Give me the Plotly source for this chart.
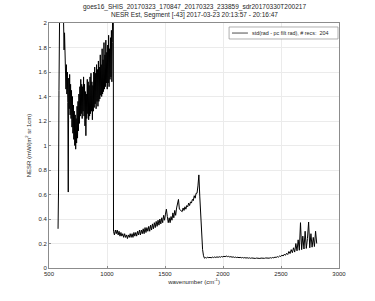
import numpy as np
import plotly.graph_objects as go

# Band 1 (longwave), start 578 cm-1, step 4
band1_start, band1_step = 578, 4
band1_vals = [0.32, 0.62, 1.45, 2.6, 3.1, 2.7, 3.3, 2.9, 3.2, 2.6, 2.4, 2.1, 1.95, 1.78, 1.92, 1.62,
              1.78, 1.46, 1.66, 1.42, 1.60, 1.35, 0.62, 1.55, 1.30, 1.58, 1.25, 1.50, 1.22, 1.45,
              1.15, 1.40, 1.10, 1.33, 1.05, 1.28, 1.00, 1.25, 0.97, 1.22, 1.02, 1.32, 1.06, 1.36,
              1.12, 1.42, 1.18, 1.48, 1.24, 1.54, 1.26, 1.50, 1.22, 1.48, 1.28, 1.56, 1.24, 1.50,
              1.16, 1.44, 1.08, 1.42, 1.22, 1.54, 1.26, 1.52, 1.21, 1.49, 1.24, 1.56, 1.26, 1.59,
              1.28, 1.52, 1.21, 1.49, 1.28, 1.60, 1.31, 1.64, 1.34, 1.59, 1.30, 1.66, 1.36, 1.62,
              1.32, 1.69, 1.36, 1.64, 1.38, 1.74, 1.41, 1.66, 1.40, 1.79, 1.42, 1.70, 1.44, 1.84,
              1.46, 1.74, 1.48, 1.86, 1.51, 1.76, 1.46, 1.82, 1.51, 1.90, 1.48, 1.79, 1.54, 1.88,
              1.56, 1.94, 1.52, 1.84, 2.3, 2.7]

# Band 2 (midwave), start 1056 cm-1, step 8
band2_start, band2_step = 1056, 8
band2_vals = [0.30, 0.27, 0.31, 0.28, 0.31, 0.27, 0.30, 0.26, 0.29, 0.26, 0.28, 0.25, 0.28, 0.25,
              0.27, 0.24, 0.27, 0.25, 0.28, 0.25, 0.28, 0.25, 0.29, 0.26, 0.29, 0.26, 0.30, 0.27,
              0.31, 0.27, 0.31, 0.28, 0.32, 0.28, 0.33, 0.29, 0.33, 0.30, 0.34, 0.30, 0.35, 0.31,
              0.36, 0.32, 0.37, 0.33, 0.38, 0.34, 0.39, 0.35, 0.40, 0.36, 0.41, 0.37, 0.43, 0.39,
              0.44, 0.48, 0.42, 0.37, 0.41, 0.37, 0.42, 0.39, 0.45, 0.41, 0.47, 0.43, 0.49, 0.52,
              0.56, 0.48, 0.47, 0.46, 0.46, 0.49, 0.47, 0.50, 0.48, 0.51, 0.50, 0.53, 0.51, 0.54,
              0.53, 0.56, 0.55, 0.59, 0.57, 0.61, 0.61, 0.67, 0.76, 0.58, 0.40, 0.25, 0.15, 0.10,
              0.08]

# Band 3 (shortwave), start 1848 cm-1, step 10
band3_start, band3_step = 1848, 10
band3_vals = [0.085, 0.082, 0.088, 0.084, 0.087, 0.083, 0.089, 0.085, 0.090, 0.086, 0.091, 0.087,
              0.092, 0.088, 0.094, 0.090, 0.096, 0.092, 0.098, 0.093, 0.095, 0.090, 0.093, 0.088,
              0.091, 0.086, 0.089, 0.085, 0.088, 0.084, 0.087, 0.083, 0.086, 0.082, 0.085, 0.081,
              0.084, 0.080, 0.083, 0.079, 0.082, 0.079, 0.082, 0.078, 0.081, 0.078, 0.081, 0.078,
              0.081, 0.079, 0.082, 0.079, 0.082, 0.080, 0.083, 0.080, 0.084, 0.081, 0.086, 0.083,
              0.089, 0.086, 0.093, 0.089, 0.098, 0.094, 0.105, 0.098, 0.112, 0.104, 0.120, 0.110,
              0.135, 0.118, 0.150, 0.125, 0.165, 0.130, 0.200, 0.140, 0.230, 0.145, 0.370, 0.150,
              0.260, 0.155, 0.300, 0.160, 0.240, 0.375, 0.165, 0.280, 0.170, 0.250, 0.175, 0.300,
              0.200]

x_ticks = [500, 1000, 1500, 2000, 2500, 3000]
y_ticks = [0, 0.2, 0.4, 0.6, 0.8, 1, 1.2, 1.4, 1.6, 1.8, 2]
y_ticklabels = ["0", "0.2", "0.4", "0.6", "0.8", "1", "1.2", "1.4", "1.6", "1.8", "2"]

title_line1 = "goes16_SHIS_20170323_170847_20170323_233859_sdr20170330T200217"
title_line2 = "NESR Est, Segment [-43] 2017-03-23 20:13:57 - 20:16:47"
legend_name = "std(rad - pc filt rad), # recs:  204"

wn = np.concatenate([
    band1_start + band1_step * np.arange(len(band1_vals)),
    band2_start + band2_step * np.arange(len(band2_vals)),
    band3_start + band3_step * np.arange(len(band3_vals)),
])
nesr = np.concatenate([band1_vals, band2_vals, band3_vals])

FONT = "Liberation Sans, Arial, sans-serif"
TXT = "#262626"
AX = "#8c8c8c"

fig = go.Figure()
fig.add_trace(go.Scatter(x=wn, y=nesr, mode="lines", name=legend_name,
                         line=dict(color="black", width=1.0), showlegend=False))

# Manual legend (box, line sample, label) in paper coordinates
fig.add_shape(type="rect", xref="paper", yref="paper", x0=0.621, x1=0.9966, y0=0.9347, y1=0.9837,
              line=dict(color=AX, width=0.7), fillcolor="white", layer="above")
fig.add_shape(type="line", xref="paper", yref="paper", x0=0.631, x1=0.686, y0=0.959, y1=0.959,
              line=dict(color="black", width=0.7), layer="above")
fig.add_annotation(text=legend_name, xref="paper", yref="paper", x=0.693, y=0.959,
                   xanchor="left", yanchor="middle", showarrow=False,
                   font=dict(family=FONT, size=5.4, color=TXT))

# Two-line title as annotations
fig.add_annotation(text=title_line1, xref="paper", yref="paper", x=0.5, y=1.065,
                   xanchor="center", yanchor="middle", showarrow=False,
                   font=dict(family=FONT, size=6.5, color=TXT))
fig.add_annotation(text=title_line2, xref="paper", yref="paper", x=0.5, y=1.032,
                   xanchor="center", yanchor="middle", showarrow=False,
                   font=dict(family=FONT, size=6.5, color=TXT))

fig.update_layout(
    width=375, height=301,
    margin=dict(l=49, r=36, t=23, b=33),
    paper_bgcolor="white", plot_bgcolor="white",
    font=dict(family=FONT, size=6, color=TXT),
    showlegend=False,
)
fig.update_xaxes(range=[500, 3000], tickvals=x_ticks, ticks="inside", ticklen=2,
                 tickcolor=AX, showline=True, linecolor=AX, linewidth=0.7,
                 mirror=True, showgrid=True, gridcolor="#ebebeb", gridwidth=0.7, zeroline=False,
                 tickfont=dict(family=FONT, size=6, color=TXT),
                 title=dict(text="wavenumber (cm<sup>-1</sup>)", standoff=2,
                            font=dict(family=FONT, size=6, color=TXT)))
fig.update_yaxes(range=[0, 2], tickvals=y_ticks, ticktext=y_ticklabels, ticks="inside", ticklen=2,
                 tickcolor=AX, showline=True, linecolor=AX, linewidth=0.7,
                 mirror=True, showgrid=True, gridcolor="#ebebeb", gridwidth=0.7, zeroline=False,
                 tickfont=dict(family=FONT, size=6, color=TXT),
                 title=dict(text="NESR (mW/(m<sup>2</sup> sr 1cm)", standoff=6,
                            font=dict(family=FONT, size=6, color=TXT)))

fig.write_html("out.html")
